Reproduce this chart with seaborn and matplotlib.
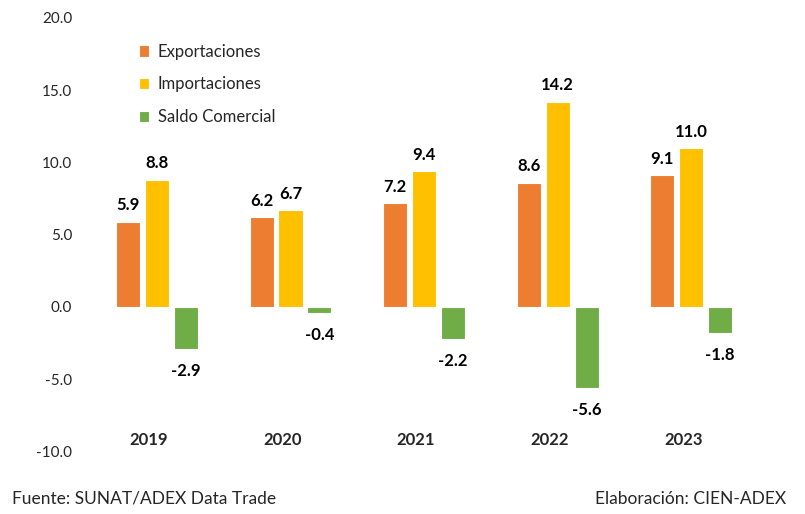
import pandas as pd
import matplotlib
matplotlib.use("Agg")
import matplotlib.pyplot as plt
import seaborn as sns

# ── Data ─────────────────────────────────────────────────────────────────────
years = ["2019", "2020", "2021", "2022", "2023"]
series = ["Exportaciones", "Importaciones", "Saldo Comercial"]
exportaciones = [5.9, 6.2, 7.2, 8.6, 9.1]
importaciones = [8.8, 6.7, 9.4, 14.2, 11.0]
saldo = [-2.9, -0.4, -2.2, -5.6, -1.8]
yticks = [-10, -5, 0, 5, 10, 15, 20]
colors = ["#ED7D31", "#FFC000", "#70AD47"]

sns.set_theme(style="white")
plt.rcParams["font.family"] = ["Lato", "DejaVu Sans"]

df = pd.DataFrame({
    "year": years * 3,
    "serie": [s for s in series for _ in years],
    "valor": exportaciones + importaciones + saldo,
})

fig = plt.figure(figsize=(8.05, 5.14), dpi=100)
ax = fig.add_axes([0.112, 0.1216, 0.8296, 0.8434])

# saturation=1 -> keep the Excel colours as they are
sns.barplot(data=df, x="year", y="valor", hue="serie", order=years,
            hue_order=series, palette=colors, saturation=1, width=0.65, gap=0.17,
            edgecolor="white", linewidth=0.8, ax=ax)

# value labels: above positive bars, below negative ones
for cont in ax.containers:
    for bar in cont:
        v = bar.get_height()
        x = bar.get_x() + bar.get_width() / 2
        if v >= 0:
            ax.annotate(f"{v:.1f}", (x, v), xytext=(0, 6), textcoords="offset points",
                        ha="center", va="bottom", fontsize=12, fontweight="bold", color="black")
        else:
            ax.annotate(f"{v:.1f}", (x, v), xytext=(0, -10), textcoords="offset points",
                        ha="center", va="top", fontsize=12, fontweight="bold", color="black")

# year labels sit near the bottom of the plot area
for i, y in enumerate(years):
    ax.text(i - 0.06, -9.2, y, ha="center", va="center", fontsize=12, fontweight="bold")

ax.set_ylim(-10, 20)
ax.set_xlim(-0.5, len(years) - 0.5)
ax.set_yticks(yticks)
ax.set_yticklabels([f"{t:.1f}" for t in yticks], fontsize=11)
ax.set_xticks([])
ax.tick_params(axis="y", length=0, pad=13)
ax.set_xlabel("")
ax.set_ylabel("")
sns.despine(ax=ax, left=True, bottom=True)

leg = ax.legend(loc="upper left", bbox_to_anchor=(0.05, 0.975), frameon=False,
                fontsize=12, handlelength=0.65, handleheight=0.65,
                handletextpad=0.5, labelspacing=1.0)

fig.text(0.015, 0.03, "Fuente: SUNAT/ADEX Data Trade", fontsize=12.5, ha="left", va="center")
fig.text(0.976, 0.03, "Elaboración: CIEN-ADEX", fontsize=12.5, ha="right", va="center")

fig.savefig("out.png", dpi=100)
plt.close(fig)
